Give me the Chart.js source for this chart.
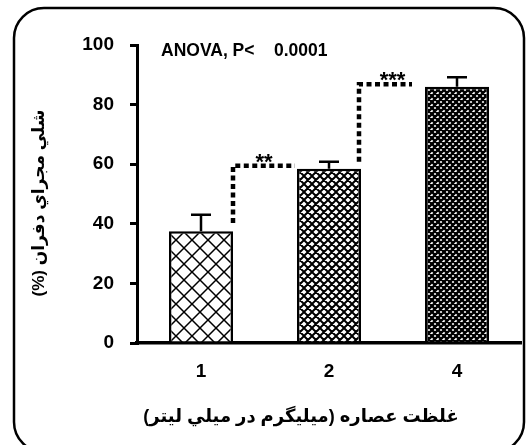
<!DOCTYPE html>
<html>
<head>
<meta charset="utf-8">
<script src="https://cdn.jsdelivr.net/npm/chart.js"></script>
<style>
  body { margin: 0; background: #fff; }
  #chart { display: block; }
</style>
</head>
<body>
<canvas id="chart" width="528" height="445"></canvas>
<script>
/* ================= DATA ================= */
const categories = ["1", "2", "4"];
const means = [37.5, 58.5, 86];
const errors = [5.5, 2.3, 3.2];
const yTicks = [0, 20, 40, 60, 80, 100];
const sigLabels = ["**", "***"];
const sigFrom = [40.3, 60.8];
const sigTo = [59.5, 86.8];
const xTitle = "غلظت عصاره (ميليگرم در ميلي ليتر)\u200F";
const yTitle = "شلي مجراي دفران (%)\u200F";
const statText = "ANOVA, P<    0.0001";

const FONT = "'Liberation Sans', Arial, 'DejaVu Sans', sans-serif";

/* ================= PATTERNS ================= */
function makePattern(size, lw) {
    const c = document.createElement("canvas");
    c.width = size;
    c.height = size;
    const g = c.getContext("2d");
    g.fillStyle = "#fff";
    g.fillRect(0, 0, size, size);
    g.strokeStyle = "#000";
    g.lineWidth = lw;
    g.beginPath();
    for (let k = -size; k <= size; k += size) {
        g.moveTo(k, 0); g.lineTo(k + size, size);
        g.moveTo(k + size, 0); g.lineTo(k, size);
    }
    g.stroke();
    return g.createPattern(c, "repeat");
}

const fills = [makePattern(16, 1.5), makePattern(8, 2), makePattern(6, 2.4)];

/* ================= EXTRAS ================= */
const extras = {
    id: "extras",
    beforeDraw(chart) {
        const ctx = chart.ctx;
        ctx.save();
        ctx.strokeStyle = "#000";
        ctx.lineWidth = 2.5;
        ctx.beginPath();
        ctx.roundRect(14, 8, 510, 444, 30);
        ctx.stroke();
        ctx.restore();
    },
    afterDatasetsDraw(chart) {
        const ctx = chart.ctx;
        const x = chart.scales.x, y = chart.scales.y;
        const bars = chart.getDatasetMeta(0).data;
        ctx.save();
        ctx.strokeStyle = "#000";
        ctx.fillStyle = "#000";

        // error bars (upper only)
        ctx.lineWidth = 2.5;
        means.forEach((m, i) => {
            const px = x.getPixelForValue(i);
            const top = y.getPixelForValue(m + errors[i]);
            ctx.beginPath();
            ctx.moveTo(px, y.getPixelForValue(m));
            ctx.lineTo(px, top);
            ctx.moveTo(px - 10, top);
            ctx.lineTo(px + 10, top);
            ctx.stroke();
        });

        // significance brackets
        const gaps = [2, 13];
        ctx.lineWidth = 4.5;
        ctx.setLineDash([5, 3.5]);
        sigLabels.forEach((lab, i) => {
            const b = bars[i], n = bars[i + 1];
            const vx = b.x + b.width / 2 - (i ? 2 : 0);
            const ex = n.x - n.width / 2 - gaps[i];
            const y0 = y.getPixelForValue(sigFrom[i]);
            const y1 = y.getPixelForValue(sigTo[i]);
            ctx.beginPath();
            ctx.moveTo(vx, y0);
            ctx.lineTo(vx, y1);
            ctx.lineTo(ex, y1);
            ctx.stroke();
            ctx.font = "bold 22px " + FONT;
            ctx.textAlign = "center";
            ctx.textBaseline = "alphabetic";
            ctx.fillText(lab, (vx + ex) / 2 + (i ? 7 : 0), y1 + 3);
        });
        ctx.setLineDash([]);

        // ANOVA text
        ctx.direction = "ltr";
        ctx.textAlign = "left";
        ctx.font = "bold 17.5px " + FONT;
        ctx.fillText(statText, 161, 56);

        // axis titles
        ctx.font = "bold 18px " + FONT;
        ctx.textAlign = "center";
        ctx.textBaseline = "middle";
        ctx.fillText(xTitle, 301, 417);
        ctx.translate(39, 203);
        ctx.rotate(-Math.PI / 2);
        ctx.font = "bold 17px " + FONT;
        ctx.fillText(yTitle, 0, 0);
        ctx.restore();
    }
};

/* ================= CHART ================= */
new Chart(document.getElementById("chart"), {
    type: "bar",
    data: {
        labels: categories,
        datasets: [{
            data: means,
            backgroundColor: fills,
            borderColor: "#000",
            borderWidth: 2.5,
            categoryPercentage: 1,
            barPercentage: 0.5
        }]
    },
    options: {
        responsive: false,
        animation: false,
        devicePixelRatio: 1,
        layout: { padding: { left: 0, top: 45, right: 7, bottom: 0 } },
        plugins: {
            legend: { display: false },
            tooltip: { enabled: false }
        },
        scales: {
            x: {
                grid: { drawOnChartArea: false, drawTicks: false },
                border: { color: "#000", width: 3.5 },
                ticks: {
                    color: "#000",
                    padding: 17,
                    font: { family: FONT, size: 19, weight: "bold" }
                },
                afterFit: s => { s.height = 102; }
            },
            y: {
                min: 0,
                max: 100,
                afterBuildTicks: s => { s.ticks = yTicks.map(v => ({ value: v })); },
                grid: {
                    drawOnChartArea: false,
                    color: "#000",
                    lineWidth: 3,
                    tickLength: 7
                },
                border: { color: "#000", width: 3 },
                ticks: {
                    color: "#000",
                    padding: 16,
                    font: { family: FONT, size: 19, weight: "bold" }
                },
                afterFit: s => { s.width = 137; }
            }
        }
    },
    plugins: [extras]
});
</script>
</body>
</html>
